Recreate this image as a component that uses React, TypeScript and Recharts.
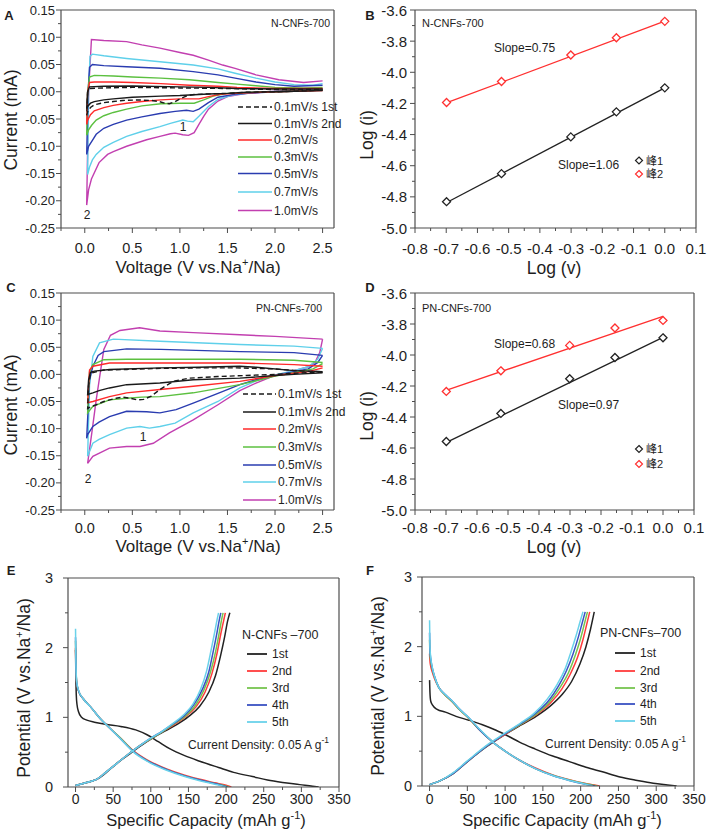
import React from 'react';
import { ComposedChart, Line, XAxis, YAxis, ReferenceLine } from 'recharts';

type Pt = [number, number];

// ---------- Panel A: N-CNFs-700 CV loops (V vs Na+/Na, mA) ----------
const cvA_01_1st: Pt[] = [[2.5,0.003],[2.2,0.001],[2.0,0.0],[1.7,-0.001],[1.5,-0.003],[1.3,-0.004],[1.15,-0.005],[1.08,-0.007],[1.0,-0.013],[0.95,-0.018],[0.89,-0.022],[0.84,-0.021],[0.78,-0.018],[0.7,-0.016],[0.55,-0.015],[0.4,-0.016],[0.3,-0.018],[0.2,-0.02],[0.1,-0.024],[0.06,-0.029],[0.03,-0.037],[0.02,-0.043],[0.03,0.0],[0.05,0.006],[0.2,0.007],[0.5,0.008],[1.0,0.007],[1.5,0.006],[2.0,0.004],[2.5,0.004]];
const cvA_01_2nd: Pt[] = [[2.5,0.002],[2.2,0.001],[2.0,0.0],[1.7,-0.001],[1.5,-0.003],[1.3,-0.004],[1.0,-0.007],[0.8,-0.008],[0.5,-0.01],[0.3,-0.013],[0.2,-0.015],[0.1,-0.018],[0.06,-0.021],[0.03,-0.027],[0.02,-0.031],[0.03,0.0],[0.05,0.009],[0.2,0.01],[0.5,0.0105],[1.0,0.009],[1.3,0.008],[1.6,0.006],[2.0,0.005],[2.5,0.005]];
const cvA_02: Pt[] = [[2.5,0.002],[2.2,0.001],[2.0,0.0],[1.7,-0.002],[1.45,-0.004],[1.3,-0.009],[1.2,-0.013],[1.1,-0.013],[1.0,-0.013],[0.8,-0.015],[0.6,-0.018],[0.44,-0.021],[0.3,-0.025],[0.2,-0.029],[0.1,-0.035],[0.06,-0.042],[0.03,-0.052],[0.02,-0.06],[0.03,0.0],[0.05,0.017],[0.1,0.018],[0.3,0.018],[0.5,0.017],[0.8,0.015],[1.1,0.012],[1.4,0.01],[1.6,0.008],[2.0,0.006],[2.5,0.006]];
const cvA_03: Pt[] = [[2.5,0.003],[2.2,0.001],[2.0,0.0],[1.8,-0.001],[1.5,-0.003],[1.35,-0.008],[1.25,-0.015],[1.15,-0.021],[1.0,-0.021],[0.8,-0.022],[0.6,-0.026],[0.44,-0.032],[0.3,-0.038],[0.2,-0.044],[0.12,-0.052],[0.07,-0.062],[0.04,-0.07],[0.02,-0.08],[0.03,0.0],[0.05,0.027],[0.1,0.03],[0.3,0.029],[0.5,0.027],[0.8,0.025],[1.1,0.022],[1.4,0.017],[1.6,0.014],[1.8,0.011],[2.0,0.008],[2.3,0.007],[2.5,0.008]];
const cvA_05: Pt[] = [[2.5,0.003],[2.2,0.001],[2.0,0.0],[1.8,-0.002],[1.6,-0.004],[1.4,-0.01],[1.3,-0.02],[1.2,-0.032],[1.14,-0.036],[1.07,-0.034],[0.95,-0.036],[0.79,-0.04],[0.6,-0.046],[0.44,-0.052],[0.3,-0.06],[0.2,-0.067],[0.12,-0.078],[0.08,-0.089],[0.04,-0.1],[0.02,-0.115],[0.035,0.0],[0.05,0.045],[0.08,0.05],[0.2,0.048],[0.44,0.046],[0.79,0.043],[1.14,0.037],[1.4,0.031],[1.58,0.025],[1.8,0.018],[2.0,0.013],[2.2,0.01],[2.5,0.012]];
const cvA_07: Pt[] = [[2.5,0.004],[2.2,0.002],[1.8,-0.001],[1.55,-0.006],[1.4,-0.014],[1.3,-0.027],[1.2,-0.045],[1.14,-0.055],[1.08,-0.054],[1.03,-0.052],[0.9,-0.058],[0.79,-0.064],[0.6,-0.073],[0.44,-0.082],[0.3,-0.093],[0.2,-0.102],[0.12,-0.115],[0.08,-0.125],[0.05,-0.138],[0.03,-0.152],[0.04,0.0],[0.055,0.065],[0.08,0.069],[0.2,0.066],[0.44,0.061],[0.79,0.055],[1.14,0.049],[1.4,0.042],[1.58,0.034],[1.8,0.025],[2.0,0.018],[2.2,0.013],[2.4,0.012],[2.5,0.015]];
const cvA_10: Pt[] = [[2.5,0.005],[2.2,0.003],[2.0,0.001],[1.7,-0.003],[1.5,-0.009],[1.4,-0.017],[1.3,-0.032],[1.25,-0.045],[1.2,-0.06],[1.15,-0.075],[1.09,-0.08],[1.03,-0.079],[0.95,-0.076],[0.9,-0.077],[0.79,-0.082],[0.65,-0.088],[0.44,-0.1],[0.3,-0.11],[0.24,-0.115],[0.15,-0.13],[0.07,-0.16],[0.04,-0.18],[0.02,-0.208],[0.04,0.0],[0.07,0.096],[0.2,0.094],[0.44,0.092],[0.6,0.086],[0.79,0.08],[1.0,0.072],[1.14,0.067],[1.3,0.058],[1.45,0.049],[1.58,0.043],[1.8,0.031],[2.04,0.022],[2.3,0.017],[2.5,0.02]];

// ---------- Panel C: PN-CNFs-700 CV loops ----------
const cvC_01_1st: Pt[] = [[2.5,0.004],[2.2,0.002],[2.0,0.0],[1.7,-0.002],[1.4,-0.004],[1.1,-0.007],[0.95,-0.012],[0.89,-0.017],[0.79,-0.028],[0.7,-0.04],[0.62,-0.046],[0.55,-0.047],[0.48,-0.044],[0.4,-0.042],[0.33,-0.044],[0.2,-0.05],[0.12,-0.056],[0.06,-0.06],[0.03,-0.063],[0.04,-0.02],[0.06,0.002],[0.1,0.004],[0.2,0.008],[0.44,0.009],[0.8,0.011],[1.2,0.012],[1.6,0.012],[2.0,0.01],[2.3,0.006],[2.5,0.005]];
const cvC_01_2nd: Pt[] = [[2.5,0.003],[2.2,0.0],[2.0,-0.002],[1.63,-0.007],[1.14,-0.01],[0.79,-0.016],[0.44,-0.019],[0.26,-0.025],[0.15,-0.03],[0.085,-0.034],[0.03,-0.037],[0.04,-0.01],[0.06,0.004],[0.1,0.006],[0.26,0.009],[0.8,0.012],[1.2,0.013],[1.63,0.015],[1.8,0.013],[2.2,0.007],[2.5,0.005]];
const cvC_02: Pt[] = [[2.5,0.012],[2.35,0.005],[2.2,0.002],[2.0,-0.002],[1.63,-0.013],[1.14,-0.022],[0.79,-0.028],[0.44,-0.034],[0.26,-0.041],[0.085,-0.05],[0.03,-0.052],[0.04,-0.02],[0.05,0.008],[0.085,0.015],[0.26,0.021],[0.8,0.021],[1.63,0.021],[2.2,0.018],[2.5,0.015]];
const cvC_03: Pt[] = [[2.5,0.02],[2.4,0.01],[2.2,0.003],[2.0,-0.003],[1.63,-0.019],[1.14,-0.034],[0.79,-0.041],[0.6,-0.042],[0.44,-0.044],[0.26,-0.047],[0.085,-0.059],[0.03,-0.071],[0.04,-0.03],[0.05,0.005],[0.085,0.018],[0.2,0.027],[0.44,0.028],[1.0,0.028],[1.63,0.028],[2.2,0.026],[2.5,0.022]];
const cvC_05: Pt[] = [[2.5,0.035],[2.45,0.022],[2.35,0.01],[2.2,0.005],[2.0,-0.002],[1.8,-0.01],[1.63,-0.019],[1.4,-0.035],[1.14,-0.053],[0.96,-0.065],[0.79,-0.071],[0.65,-0.069],[0.44,-0.068],[0.26,-0.078],[0.15,-0.088],[0.085,-0.096],[0.03,-0.111],[0.02,-0.118],[0.05,-0.01],[0.085,0.015],[0.14,0.035],[0.2,0.042],[0.44,0.047],[0.8,0.046],[1.63,0.042],[2.2,0.04],[2.5,0.035]];
const cvC_07: Pt[] = [[2.5,0.048],[2.45,0.028],[2.35,0.014],[2.2,0.007],[2.0,-0.001],[1.8,-0.012],[1.63,-0.025],[1.4,-0.05],[1.14,-0.071],[0.95,-0.09],[0.79,-0.096],[0.68,-0.099],[0.58,-0.096],[0.44,-0.099],[0.26,-0.111],[0.15,-0.12],[0.085,-0.127],[0.03,-0.151],[0.05,-0.02],[0.085,0.033],[0.155,0.058],[0.3,0.065],[0.79,0.061],[1.63,0.055],[2.2,0.052],[2.5,0.048]];
const cvC_10: Pt[] = [[2.5,0.065],[2.47,0.04],[2.42,0.022],[2.35,0.014],[2.2,0.007],[2.0,-0.002],[1.8,-0.016],[1.63,-0.03],[1.4,-0.056],[1.14,-0.084],[0.89,-0.108],[0.72,-0.127],[0.58,-0.133],[0.44,-0.133],[0.26,-0.136],[0.085,-0.151],[0.03,-0.164],[0.08,-0.1],[0.12,-0.047],[0.2,0.046],[0.27,0.072],[0.37,0.081],[0.576,0.086],[0.79,0.08],[1.14,0.077],[1.63,0.073],[2.0,0.07],[2.5,0.065]];

// ---------- Panels B / D: log(i) vs log(v) ----------
const logV = [-0.699, -0.523, -0.301, -0.155, 0];
const B_peak1 = [-4.831, -4.651, -4.415, -4.254, -4.1];
const B_peak2 = [-4.194, -4.059, -3.889, -3.778, -3.673];
const B_fit1: Pt[] = [[-0.7, -4.838], [0, -4.1]];
const B_fit2: Pt[] = [[-0.7, -4.197], [0, -3.672]];
const D_peak1 = [-4.558, -4.377, -4.153, -4.016, -3.889];
const D_peak2 = [-4.235, -4.102, -3.938, -3.826, -3.777];
const D_fit1: Pt[] = [[-0.7, -4.565], [0, -3.886]];
const D_fit2: Pt[] = [[-0.7, -4.228], [0, -3.751]];

// ---------- Panel E: N-CNFs-700 GCD (mAh/g, V) ----------
const gE_d1: Pt[] = [[0,1.97],[0.5,1.55],[1,1.32],[2,1.18],[4,1.08],[8,1.0],[15,0.96],[25,0.93],[40,0.9],[60,0.87],[80,0.82],[95,0.75],[110,0.65],[125,0.55],[145,0.45],[165,0.37],[190,0.28],[210,0.21],[235,0.15],[255,0.1],[275,0.065],[298,0.034],[315,0.01],[323,0]];
const gE_d2: Pt[] = [[0,2.0],[0.5,1.72],[1.5,1.5],[4,1.38],[10,1.27],[20,1.15],[33,0.98],[45,0.85],[60,0.7],[77,0.52],[95,0.39],[121,0.26],[145,0.17],[165,0.11],[185,0.06],[200,0.025],[207,0]];
const gE_d3: Pt[] = [[0,2.1],[0.5,1.75],[1.5,1.5],[4,1.38],[10,1.27],[20,1.15],[33,0.98],[45,0.85],[60,0.7],[77,0.51],[95,0.38],[121,0.25],[145,0.16],[165,0.1],[185,0.05],[198,0.02],[204,0]];
const gE_d4: Pt[] = [[0,2.15],[0.5,1.76],[1.5,1.5],[4,1.38],[10,1.27],[20,1.15],[33,0.98],[45,0.85],[60,0.69],[77,0.51],[95,0.38],[121,0.25],[145,0.16],[165,0.1],[185,0.05],[196,0.02],[202,0]];
const gE_d5: Pt[] = [[0,2.27],[0.5,1.8],[1.5,1.52],[4,1.39],[10,1.27],[20,1.15],[33,0.98],[45,0.85],[60,0.69],[77,0.5],[95,0.37],[121,0.24],[145,0.15],[165,0.09],[185,0.04],[195,0.015],[200,0]];
const gE_c1: Pt[] = [[0,0.02],[10,0.05],[20,0.08],[30,0.12],[40,0.2],[55,0.34],[70,0.46],[85,0.58],[105,0.72],[120,0.81],[135,0.9],[150,1.01],[165,1.16],[177,1.36],[186,1.6],[193,1.9],[198,2.15],[202,2.38],[205,2.5]];
const gE_c2: Pt[] = [[0,0.02],[10,0.05],[20,0.08],[28,0.11],[40,0.21],[55,0.34],[70,0.47],[85,0.59],[100,0.69],[115,0.79],[130,0.89],[145,1.0],[160,1.15],[172,1.36],[181,1.62],[188,1.92],[193,2.2],[197,2.4],[199,2.5]];
const gE_c3: Pt[] = [[0,0.02],[10,0.05],[20,0.08],[28,0.11],[40,0.21],[55,0.34],[70,0.47],[85,0.59],[100,0.69],[115,0.79],[130,0.9],[145,1.01],[159,1.17],[170,1.38],[179,1.64],[186,1.94],[191,2.22],[194,2.4],[196,2.5]];
const gE_c4: Pt[] = [[0,0.02],[10,0.05],[20,0.08],[28,0.11],[40,0.21],[55,0.34],[70,0.47],[85,0.59],[100,0.7],[115,0.8],[130,0.91],[144,1.02],[157,1.18],[168,1.39],[177,1.65],[183,1.95],[188,2.22],[191,2.4],[193,2.5]];
const gE_c5: Pt[] = [[0,0.02],[10,0.05],[20,0.08],[28,0.11],[40,0.21],[55,0.34],[70,0.47],[85,0.59],[100,0.7],[115,0.8],[129,0.91],[143,1.03],[156,1.19],[166,1.4],[174,1.66],[180,1.96],[185,2.23],[188,2.4],[190,2.5]];

// ---------- Panel F: PN-CNFs-700 GCD ----------
const gF_d1: Pt[] = [[0,1.52],[0.5,1.35],[1.5,1.22],[4,1.16],[10,1.1],[21,1.06],[35,1.0],[52,0.945],[70,0.88],[88,0.8],[105,0.71],[119,0.63],[140,0.53],[163,0.43],[185,0.35],[207,0.27],[230,0.2],[252,0.13],[275,0.08],[296,0.04],[315,0.015],[327,0]];
const gF_d2: Pt[] = [[0,1.9],[0.5,1.8],[1.5,1.72],[3.5,1.64],[7,1.53],[12,1.42],[20,1.31],[30,1.21],[40,1.09],[52,0.97],[65,0.82],[85,0.62],[100,0.5],[119,0.37],[140,0.26],[163,0.16],[185,0.09],[205,0.04],[218,0.015],[225,0]];
const gF_d3: Pt[] = [[0,2.1],[0.5,1.9],[1.5,1.8],[3.5,1.68],[7,1.55],[12,1.42],[20,1.31],[30,1.21],[40,1.09],[52,0.97],[65,0.82],[85,0.62],[100,0.5],[119,0.37],[140,0.25],[163,0.155],[185,0.085],[205,0.035],[222,0]];
const gF_d4: Pt[] = [[0,2.2],[0.5,1.95],[1.5,1.83],[3.5,1.7],[7,1.56],[12,1.42],[20,1.32],[30,1.22],[40,1.1],[52,0.98],[65,0.82],[85,0.62],[100,0.5],[119,0.37],[140,0.25],[163,0.15],[185,0.08],[205,0.03],[219,0]];
const gF_d5: Pt[] = [[0,2.38],[0.5,2.0],[1.5,1.85],[3.5,1.71],[7,1.56],[12,1.42],[20,1.32],[30,1.22],[40,1.1],[52,0.98],[65,0.83],[85,0.62],[100,0.5],[119,0.37],[140,0.25],[163,0.15],[185,0.08],[205,0.03],[216,0]];
const gF_c1: Pt[] = [[0,0.02],[15,0.08],[30,0.17],[50,0.35],[75,0.56],[97,0.72],[120,0.87],[141,1.0],[160,1.15],[176,1.32],[188,1.5],[199,1.75],[207,2.0],[213,2.25],[218,2.5]];
const gF_c2: Pt[] = [[0,0.02],[15,0.08],[30,0.17],[50,0.35],[75,0.57],[97,0.72],[120,0.88],[141,1.02],[160,1.19],[175,1.39],[186,1.6],[196,1.85],[203,2.1],[208,2.32],[212,2.5]];
const gF_c3: Pt[] = [[0,0.02],[15,0.08],[30,0.17],[50,0.35],[75,0.57],[97,0.73],[120,0.88],[141,1.03],[159,1.21],[173,1.42],[184,1.63],[193,1.88],[200,2.12],[205,2.33],[209,2.5]];
const gF_c4: Pt[] = [[0,0.02],[15,0.08],[30,0.17],[50,0.35],[75,0.57],[97,0.73],[120,0.89],[140,1.04],[158,1.23],[171,1.44],[181,1.65],[190,1.9],[197,2.14],[202,2.34],[206,2.5]];
const gF_c5: Pt[] = [[0,0.02],[15,0.08],[30,0.18],[50,0.36],[75,0.58],[97,0.74],[120,0.9],[139,1.05],[156,1.25],[169,1.46],[179,1.67],[187,1.92],[194,2.16],[199,2.35],[203,2.5]];

// ---------- ticks & labels ----------
const cvYTicks = [-0.25,-0.225,-0.2,-0.175,-0.15,-0.125,-0.1,-0.075,-0.05,-0.025,0,0.025,0.05,0.075,0.1,0.125,0.15];
const cvYMajors = [-0.25,-0.2,-0.15,-0.1,-0.05,0,0.05,0.1,0.15];
const cvXTicks = [-0.25,0,0.25,0.5,0.75,1,1.25,1.5,1.75,2,2.25,2.5];
const cvXMajors = [0,0.5,1,1.5,2,2.5];
const logXTicks = [-0.8,-0.75,-0.7,-0.65,-0.6,-0.55,-0.5,-0.45,-0.4,-0.35,-0.3,-0.25,-0.2,-0.15,-0.1,-0.05,0,0.05,0.1];
const logXMajors = [-0.8,-0.7,-0.6,-0.5,-0.4,-0.3,-0.2,-0.1,0,0.1];
const logYTicks = [-5,-4.9,-4.8,-4.7,-4.6,-4.5,-4.4,-4.3,-4.2,-4.1,-4,-3.9,-3.8,-3.7,-3.6];
const logYMajors = [-5,-4.8,-4.6,-4.4,-4.2,-4,-3.8,-3.6];
const gXTicks = [0,25,50,75,100,125,150,175,200,225,250,275,300,325,350];
const gXMajors = [0,50,100,150,200,250,300,350];
const gYTicks = [0,0.5,1,1.5,2,2.5,3];
const gYMajors = [0,1,2,3];

const cvLabels = ['0.1mV/s 1st', '0.1mV/s 2nd', '0.2mV/s', '0.3mV/s', '0.5mV/s', '0.7mV/s', '1.0mV/s'];
const cycleLabels = ['1st', '2nd', '3rd', '4th', '5th'];
const peakLabels = ['峰1', '峰2'];

const FONT = '"Liberation Sans", Arial, Helvetica, sans-serif';
const CJK = '"Liberation Sans", "Noto Sans CJK SC", sans-serif';
const AX = '#4d4d4d';
const TXT = '#1e1e1e';
const cvColors = ['#1a1a1a', '#1a1a1a', '#ff2a2a', '#5cc040', '#2a3cb0', '#5fd0ea', '#c23fb0'];
const gColors = ['#222222', '#ff3b3b', '#76c450', '#3a52c2', '#6ad2ea'];
const logColors = ['#222222', '#ff3030'];

const pts = (a: Pt[]) => a.map(([x, y]) => ({ x, y }));
const zip = (xs: number[], ys: number[]) => xs.map((x, i) => ({ x, y: ys[i] }));

function makeTick(side: 'left' | 'bottom', majors: number[], fmt: (v: number) => string, fs: number, gap: number) {
  return (props: any) => {
    const { x, y, payload } = props;
    const v = payload.value;
    const major = majors.some((m) => Math.abs(m - v) < 1e-6);
    const len = major ? 5 : 3;
    if (side === 'left') {
      return (
        <g>
          <line x1={x} x2={x - len} y1={y} y2={y} stroke={AX} strokeWidth={1} />
          {major && (
            <text x={x - gap} y={y} textAnchor="end" dominantBaseline="central" fontSize={fs} fill={TXT} fontFamily={FONT}>
              {fmt(v)}
            </text>
          )}
        </g>
      );
    }
    return (
      <g>
        <line x1={x} x2={x} y1={y} y2={y + len} stroke={AX} strokeWidth={1} />
        {major && (
          <text x={x} y={y + gap} textAnchor="middle" fontSize={fs} fill={TXT} fontFamily={FONT}>
            {fmt(v)}
          </text>
        )}
      </g>
    );
  };
}

const diamond = (color: string) => (p: any) => {
  const { cx, cy, index } = p;
  if (cx == null || cy == null) return <g key={index} />;
  const r = 4;
  return (
    <path key={index} d={`M${cx},${cy - r}L${cx + r},${cy}L${cx},${cy + r}L${cx - r},${cy}Z`} fill="#fff" stroke={color} strokeWidth={1.3} />
  );
};

type AxisCfg = {
  domain: [number, number];
  ticks: number[];
  majors: number[];
  fmt: (v: number) => string;
  fs: number;
  gap: number;
};

function frame(
  key: string,
  left: number,
  top: number,
  w: number,
  h: number,
  margin: { top: number; right: number },
  yW: number,
  xH: number,
  xa: AxisCfg,
  ya: AxisCfg,
  series: React.ReactNode[],
) {
  return (
    <div key={key} style={{ position: 'absolute', left, top, width: w, height: h }}>
      <ComposedChart width={w} height={h} margin={{ top: margin.top, right: margin.right, left: 0, bottom: 0 }}>
        <XAxis
          type="number"
          dataKey="x"
          domain={xa.domain}
          ticks={xa.ticks}
          interval={0}
          tickSize={0}
          tickMargin={0}
          tickLine={false}
          axisLine={{ stroke: AX, strokeWidth: 1.2 }}
          height={xH}
          allowDataOverflow
          tick={makeTick('bottom', xa.majors, xa.fmt, xa.fs, xa.gap)}
        />
        <YAxis
          type="number"
          dataKey="y"
          domain={ya.domain}
          ticks={ya.ticks}
          interval={0}
          tickSize={0}
          tickMargin={0}
          tickLine={false}
          axisLine={{ stroke: AX, strokeWidth: 1.2 }}
          width={yW}
          allowDataOverflow
          tick={makeTick('left', ya.majors, ya.fmt, ya.fs, ya.gap)}
        />
        <ReferenceLine x={xa.domain[1]} stroke={AX} strokeWidth={1.2} />
        <ReferenceLine y={ya.domain[1]} stroke={AX} strokeWidth={1.2} />
        {series}
      </ComposedChart>
    </div>
  );
}

const ln = (key: string, data: Pt[], color: string, width = 1.4, dash?: string, type: any = 'linear') => (
  <Line
    key={key}
    data={pts(data)}
    dataKey="y"
    type={type}
    stroke={color}
    strokeWidth={width}
    strokeDasharray={dash}
    dot={false}
    activeDot={false}
    isAnimationActive={false}
  />
);

const marks = (key: string, ys: number[], color: string) => (
  <Line
    key={key}
    data={zip(logV, ys)}
    dataKey="y"
    stroke="none"
    dot={diamond(color)}
    activeDot={false}
    isAnimationActive={false}
  />
);

const f2 = (v: number) => v.toFixed(2);
const f1 = (v: number) => v.toFixed(1);
const f0 = (v: number) => String(v);

function T(props: {
  x: number;
  y: number;
  children: React.ReactNode;
  size?: number;
  anchor?: 'start' | 'middle' | 'end';
  weight?: number;
  rotate?: number;
  family?: string;
  base?: string;
}) {
  const { x, y, children, size = 12, anchor = 'start', weight = 400, rotate = 0, family = FONT, base = 'central' } = props;
  return (
    <text
      x={x}
      y={y}
      fontSize={size}
      textAnchor={anchor}
      fontWeight={weight}
      fontFamily={family}
      fill={TXT}
      dominantBaseline={base as any}
      transform={rotate ? `rotate(${rotate} ${x} ${y})` : undefined}
    >
      {children}
    </text>
  );
}

const naTitle = (
  <>
    <tspan>Voltage (V vs.Na</tspan>
    <tspan dy={-7} fontSize={11}>+</tspan>
    <tspan dy={7}>/Na)</tspan>
  </>
);
const potTitle = (
  <>
    <tspan>Potential (V vs.Na</tspan>
    <tspan dy={-7} fontSize={11}>+</tspan>
    <tspan dy={7}>/Na)</tspan>
  </>
);
const capTitle = (
  <>
    <tspan>Specific Capacity (mAh g</tspan>
    <tspan dy={-7} fontSize={11}>-1</tspan>
    <tspan dy={7}>)</tspan>
  </>
);
const density = (
  <>
    <tspan>Current Density: 0.05 A g</tspan>
    <tspan dy={-5} fontSize={8.5}>-1</tspan>
  </>
);

function CvLegend({ rows, x1, x2, tx }: { rows: number[]; x1: number; x2: number; tx: number }) {
  return (
    <g>
      {cvLabels.map((lab, i) => (
        <g key={lab}>
          <line x1={x1} x2={x2} y1={rows[i]} y2={rows[i]} stroke={cvColors[i]} strokeWidth={1.5} strokeDasharray={i === 0 ? '5 3' : undefined} />
          <T x={tx} y={rows[i]} size={12}>{lab}</T>
        </g>
      ))}
    </g>
  );
}

function CycleLegend({ rows, x1, x2, tx }: { rows: number[]; x1: number; x2: number; tx: number }) {
  return (
    <g>
      {cycleLabels.map((lab, i) => (
        <g key={lab}>
          <line x1={x1} x2={x2} y1={rows[i]} y2={rows[i]} stroke={gColors[i]} strokeWidth={1.8} />
          <T x={tx} y={rows[i]} size={12}>{lab}</T>
        </g>
      ))}
    </g>
  );
}

function PeakLegend({ rows, mx, tx }: { rows: number[]; mx: number; tx: number }) {
  return (
    <g>
      {peakLabels.map((lab, i) => (
        <g key={lab}>
          <path d={`M${mx},${rows[i] - 3.5}L${mx + 3.5},${rows[i]}L${mx},${rows[i] + 3.5}L${mx - 3.5},${rows[i]}Z`} fill="#fff" stroke={logColors[i]} strokeWidth={1.2} />
          <T x={tx} y={rows[i]} size={11} family={CJK}>{lab}</T>
        </g>
      ))}
    </g>
  );
}

export default function App() {
  const cvX = (gap: number): AxisCfg => ({ domain: [-0.25, 2.62], ticks: cvXTicks, majors: cvXMajors, fmt: f1, fs: 14.5, gap });
  const cvY: AxisCfg = { domain: [-0.25, 0.15], ticks: cvYTicks, majors: cvYMajors, fmt: f2, fs: 13, gap: 6 };
  const lgX = (gap: number): AxisCfg => ({ domain: [-0.8, 0.1], ticks: logXTicks, majors: logXMajors, fmt: f1, fs: 15, gap });
  const lgY: AxisCfg = { domain: [-5, -3.6], ticks: logYTicks, majors: logYMajors, fmt: f1, fs: 15, gap: 8 };
  const gX = (gap: number): AxisCfg => ({ domain: [-10, 350], ticks: gXTicks, majors: gXMajors, fmt: f0, fs: 14, gap });
  const gY = (gap: number): AxisCfg => ({ domain: [0, 3], ticks: gYTicks, majors: gYMajors, fmt: f0, fs: 14.5, gap });

  const cvSeriesA = [
    ln('a10', cvA_10, cvColors[6]),
    ln('a07', cvA_07, cvColors[5]),
    ln('a05', cvA_05, cvColors[4]),
    ln('a03', cvA_03, cvColors[3]),
    ln('a02', cvA_02, cvColors[2]),
    ln('a01b', cvA_01_2nd, cvColors[1]),
    ln('a01a', cvA_01_1st, cvColors[0], 1.4, '5 3'),
  ];
  const cvSeriesC = [
    ln('c10', cvC_10, cvColors[6]),
    ln('c07', cvC_07, cvColors[5]),
    ln('c05', cvC_05, cvColors[4]),
    ln('c03', cvC_03, cvColors[3]),
    ln('c02', cvC_02, cvColors[2]),
    ln('c01b', cvC_01_2nd, cvColors[1]),
    ln('c01a', cvC_01_1st, cvColors[0], 1.4, '5 3'),
  ];
  const logSeriesB = [
    ln('bf1', B_fit1, logColors[0], 1.3),
    ln('bf2', B_fit2, logColors[1], 1.3),
    marks('bm1', B_peak1, logColors[0]),
    marks('bm2', B_peak2, logColors[1]),
  ];
  const logSeriesD = [
    ln('df1', D_fit1, logColors[0], 1.3),
    ln('df2', D_fit2, logColors[1], 1.3),
    marks('dm1', D_peak1, logColors[0]),
    marks('dm2', D_peak2, logColors[1]),
  ];
  const gSeriesE = [
    ln('ed1', gE_d1, gColors[0], 1.5, undefined, 'monotone'),
    ln('ec1', gE_c1, gColors[0], 1.5, undefined, 'monotone'),
    ln('ed2', gE_d2, gColors[1], 1.5, undefined, 'monotone'),
    ln('ec2', gE_c2, gColors[1], 1.5, undefined, 'monotone'),
    ln('ed3', gE_d3, gColors[2], 1.5, undefined, 'monotone'),
    ln('ec3', gE_c3, gColors[2], 1.5, undefined, 'monotone'),
    ln('ed4', gE_d4, gColors[3], 1.5, undefined, 'monotone'),
    ln('ec4', gE_c4, gColors[3], 1.5, undefined, 'monotone'),
    ln('ed5', gE_d5, gColors[4], 1.5, undefined, 'monotone'),
    ln('ec5', gE_c5, gColors[4], 1.5, undefined, 'monotone'),
  ];
  const gSeriesF = [
    ln('fd1', gF_d1, gColors[0], 1.5, undefined, 'monotone'),
    ln('fc1', gF_c1, gColors[0], 1.5, undefined, 'monotone'),
    ln('fd2', gF_d2, gColors[1], 1.5, undefined, 'monotone'),
    ln('fc2', gF_c2, gColors[1], 1.5, undefined, 'monotone'),
    ln('fd3', gF_d3, gColors[2], 1.5, undefined, 'monotone'),
    ln('fc3', gF_c3, gColors[2], 1.5, undefined, 'monotone'),
    ln('fd4', gF_d4, gColors[3], 1.5, undefined, 'monotone'),
    ln('fc4', gF_c4, gColors[3], 1.5, undefined, 'monotone'),
    ln('fd5', gF_d5, gColors[4], 1.5, undefined, 'monotone'),
    ln('fc5', gF_c5, gColors[4], 1.5, undefined, 'monotone'),
  ];

  return (
    <div style={{ position: 'absolute', left: 0, top: 0, width: 708, height: 833, background: '#fff', overflow: 'hidden', fontFamily: FONT }}>
      {frame('A', 0, 0, 354, 280, { top: 10, right: 20 }, 61, 52, cvX(25), cvY, cvSeriesA)}
      {frame('B', 354, 0, 354, 280, { top: 10, right: 12 }, 61, 52, lgX(26), lgY, logSeriesB)}
      {frame('C', 0, 275, 354, 280, { top: 18, right: 20 }, 61, 45, cvX(23), cvY, cvSeriesC)}
      {frame('D', 354, 275, 354, 280, { top: 18, right: 14 }, 61, 45, lgX(23), lgY, logSeriesD)}
      {frame('E', 0, 550, 354, 283, { top: 28, right: 15 }, 68, 46, gX(17), gY(15), gSeriesE)}
      {frame('F', 354, 550, 354, 283, { top: 27, right: 14 }, 68, 47, gX(18), gY(10), gSeriesF)}

      <svg width={708} height={833} style={{ position: 'absolute', left: 0, top: 0, pointerEvents: 'none' }}>
        {/* panel letters */}
        <T x={9} y={15} size={13} weight={700} anchor="middle">A</T>
        <T x={370} y={15} size={13} weight={700} anchor="middle">B</T>
        <T x={11} y={287} size={13} weight={700} anchor="middle">C</T>
        <T x={370} y={287} size={13} weight={700} anchor="middle">D</T>
        <T x={11} y={570} size={13} weight={700} anchor="middle">E</T>
        <T x={370} y={570} size={13} weight={700} anchor="middle">F</T>

        {/* Panel A */}
        <T x={17} y={120} size={17.5} anchor="middle" rotate={-90} base="alphabetic">Current (mA)</T>
        <T x={198} y={273} size={17} anchor="middle" base="alphabetic">{naTitle}</T>
        <T x={330} y={23} size={10.5} anchor="end">N-CNFs-700</T>
        <CvLegend rows={[107, 123.5, 140, 157, 173.5, 192, 210.5]} x1={238} x2={272} tx={274} />
        <T x={183} y={127} size={12} anchor="middle">1</T>
        <T x={87} y={215} size={12} anchor="middle">2</T>

        {/* Panel B */}
        <T x={373} y={135} size={17.5} anchor="middle" rotate={-90} base="alphabetic">Log (i)</T>
        <T x={554} y={274} size={17.5} anchor="middle" base="alphabetic">Log (v)</T>
        <T x={422} y={23} size={11}>N-CNFs-700</T>
        <T x={494} y={48} size={12}>Slope=0.75</T>
        <T x={558} y={165} size={12}>Slope=1.06</T>
        <PeakLegend rows={[160.5, 174]} mx={639} tx={646} />

        {/* Panel C */}
        <T x={17} y={405} size={17.5} anchor="middle" rotate={-90} base="alphabetic">Current (mA)</T>
        <T x={198} y={552} size={17} anchor="middle" base="alphabetic">{naTitle}</T>
        <T x={322} y={308} size={10.5} anchor="end">PN-CNFs-700</T>
        <CvLegend rows={[394, 412, 429, 447, 465, 482, 500]} x1={243} x2={276} tx={278} />
        <T x={143} y={437} size={12} anchor="middle">1</T>
        <T x={88} y={479} size={12} anchor="middle">2</T>

        {/* Panel D */}
        <T x={373} y={416} size={17.5} anchor="middle" rotate={-90} base="alphabetic">Log (i)</T>
        <T x={554} y={553} size={17.5} anchor="middle" base="alphabetic">Log (v)</T>
        <T x={422} y={308} size={11}>PN-CNFs-700</T>
        <T x={494} y={344} size={12}>Slope=0.68</T>
        <T x={558} y={405} size={12}>Slope=0.97</T>
        <PeakLegend rows={[449, 464]} mx={639} tx={646} />

        {/* Panel E */}
        <T x={30} y={688} size={17.5} anchor="middle" rotate={-90} base="alphabetic">{potTitle}</T>
        <T x={206} y={826} size={16.5} anchor="middle" base="alphabetic">{capTitle}</T>
        <T x={242} y={635} size={12.5}>N-CNFs –700</T>
        <CycleLegend rows={[654, 671, 688, 705, 722]} x1={247} x2={267} tx={272} />
        <T x={188} y={745} size={12}>{density}</T>

        {/* Panel F */}
        <T x={384} y={686} size={17.5} anchor="middle" rotate={-90} base="alphabetic">{potTitle}</T>
        <T x={562} y={826} size={16.5} anchor="middle" base="alphabetic">{capTitle}</T>
        <T x={600} y={633} size={12.5}>PN-CNFs–700</T>
        <CycleLegend rows={[653, 671, 688, 704, 721]} x1={615} x2={635} tx={640} />
        <T x={545} y={744} size={12}>{density}</T>
      </svg>
    </div>
  );
}
